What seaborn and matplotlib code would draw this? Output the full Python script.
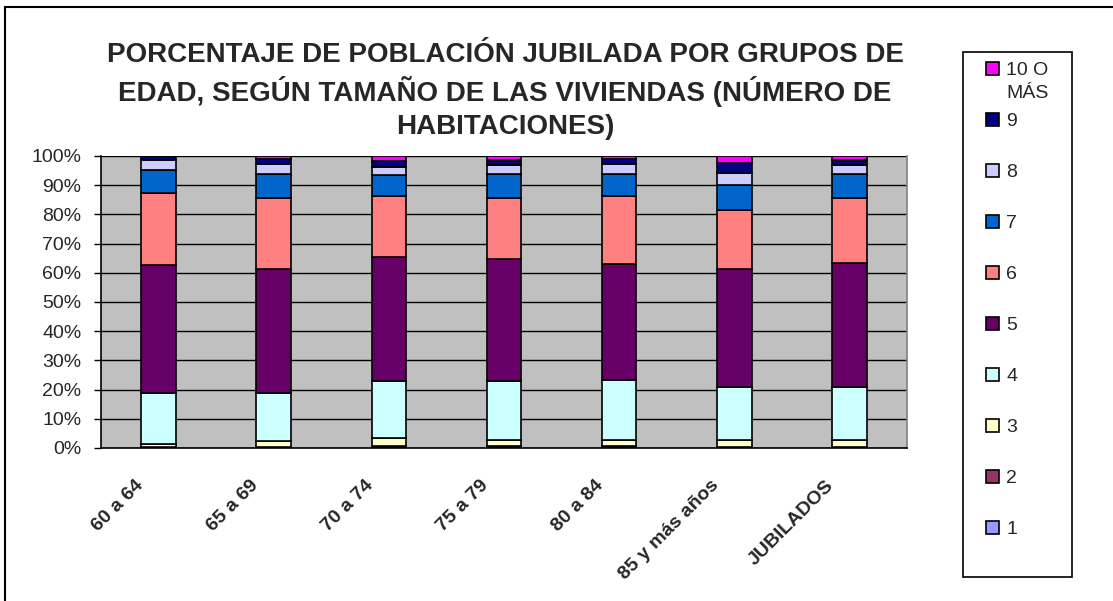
import numpy as np
import pandas as pd
import matplotlib
matplotlib.use("Agg")
import matplotlib.pyplot as plt
import matplotlib.transforms as mtransforms
from matplotlib.patches import Rectangle, Patch
import seaborn as sns

grupos = ["60 a 64", "65 a 69", "70 a 74", "75 a 79", "80 a 84", "85 y más años", "JUBILADOS"]
habitaciones = ["1", "2", "3", "4", "5", "6", "7", "8", "9", "10 O"]

# porcentaje de cada tamaño de vivienda, por grupo de edad
uno = [0.1, 0.1, 0.2, 0.2, 0.2, 0.1, 0.1]
dos = [0.2, 0.2, 0.5, 0.4, 0.4, 0.2, 0.3]
tres = [1.2, 2.0, 2.8, 2.3, 2.3, 2.6, 2.5]
cuatro = [17.3, 16.5, 19.3, 19.9, 20.5, 18.0, 18.0]
cinco = [43.8, 42.6, 42.6, 42.0, 39.7, 40.5, 42.6]
seis = [24.8, 24.2, 20.8, 20.8, 23.1, 20.0, 22.1]
siete = [7.7, 8.4, 7.2, 8.4, 7.8, 8.8, 8.4]
ocho = [3.4, 3.4, 2.8, 2.8, 3.4, 4.1, 2.8]
nueve = [1.5, 1.5, 2.0, 1.9, 1.5, 3.3, 1.7]
diez = [0.0, 1.1, 1.8, 1.3, 1.1, 2.4, 1.5]

colores = ["#9999FF", "#993366", "#FFFFCC", "#CCFFFF", "#660066",
           "#FF8080", "#0066CC", "#CCCCFF", "#000080", "#FF00FF"]

series = [uno, dos, tres, cuatro, cinco, seis, siete, ocho, nueve, diez]
mat = np.array(series, dtype=float)
mat = mat / mat.sum(axis=0) * 100  # apilado al 100%

sns.set_style("white")
plt.rcParams['font.family'] = ['Liberation Sans', 'DejaVu Sans']

fig = plt.figure(figsize=(11.13, 6.01), dpi=100)
ax = fig.add_axes([101 / 1113, 1 - 448 / 601, (907 - 101) / 1113, (448 - 156) / 601])
ax.set_facecolor("#C0C0C0")

base = np.zeros(len(grupos))
for i, nombre in enumerate(habitaciones):
    df = pd.DataFrame({"grupo": grupos, "valor": mat[i]})
    sns.barplot(data=df, x="grupo", y="valor", color=colores[i], bottom=base,
                width=0.3, edgecolor="black", linewidth=1.2, saturation=1,
                ax=ax, zorder=3)
    base = base + mat[i]

ax.set_xlim(-0.5, len(grupos) - 0.5)
ax.set_ylim(0, 100)
ax.set_yticks(np.arange(0, 101, 10))
ax.set_yticklabels([f"{v}%" for v in range(0, 101, 10)], fontsize=14)
ax.yaxis.grid(True, color="black", linewidth=1, zorder=0)
ax.set_axisbelow(True)
ax.set_xlabel("")
ax.set_ylabel("")

# ticks del eje x en los límites de categoría
ax.set_xticks(np.arange(len(grupos)))
ax.set_xticks(np.arange(-0.5, len(grupos)), minor=True)
ax.tick_params(axis="x", which="major", length=0, pad=21)
ax.tick_params(axis="x", which="minor", length=6, width=1, color="#404040", direction="out")
ax.tick_params(axis="y", length=5, width=1, color="black", direction="out", left=True, pad=9)
ax.set_xticklabels(grupos, rotation=45, ha="right", va="top", rotation_mode="anchor",
                   fontsize=14, fontweight="bold")
desplaza = mtransforms.ScaledTranslation(-0.24, 0, fig.dpi_scale_trans)
for lbl in ax.get_xticklabels():
    lbl.set_transform(lbl.get_transform() + desplaza)

for lado in ["left", "bottom"]:
    ax.spines[lado].set_color("black")
    ax.spines[lado].set_linewidth(1.2)
ax.spines["top"].set_visible(False)
ax.spines["right"].set_color("#808080")
ax.spines["right"].set_linewidth(1.2)

fig.text(505 / 1113, 1 - 91 / 601,
         "PORCENTAJE DE POBLACIÓN JUBILADA POR GRUPOS DE\n"
         "EDAD, SEGÚN TAMAÑO DE LAS VIVIENDAS (NÚMERO DE\n"
         "HABITACIONES)",
         ha="center", va="center", fontsize=20, fontweight="bold",
         linespacing=1.35, transform=fig.transFigure)

# marco exterior del gráfico
fig.patches.append(Rectangle((5 / 1113, -0.05), 1.2, 1 - 7 / 601 + 0.05,
                             transform=fig.transFigure, fill=False,
                             edgecolor="black", linewidth=1.5))

# leyenda
fig.patches.append(Rectangle((963 / 1113, 1 - 577 / 601), (1072 - 963) / 1113, (577 - 52) / 601,
                             transform=fig.transFigure, facecolor="white",
                             edgecolor="black", linewidth=1.2))
handles = [Patch(facecolor=colores[i], edgecolor="black", linewidth=1.2, label=habitaciones[i])
           for i in range(len(habitaciones) - 1, -1, -1)]
fig.legend(handles=handles, loc="upper left", bbox_to_anchor=(986 / 1113, 1 - 62 / 601),
           frameon=False, fontsize=14, handlelength=0.65, handleheight=0.65,
           handletextpad=0.4, labelspacing=1.73, borderaxespad=0, borderpad=0)
# segunda línea de la etiqueta "10 O MÁS"
fig.text(1006 / 1113, 1 - 94 / 601, "MÁS", ha="left", va="center", fontsize=14,
         transform=fig.transFigure)

fig.savefig("out.png", dpi=100)
